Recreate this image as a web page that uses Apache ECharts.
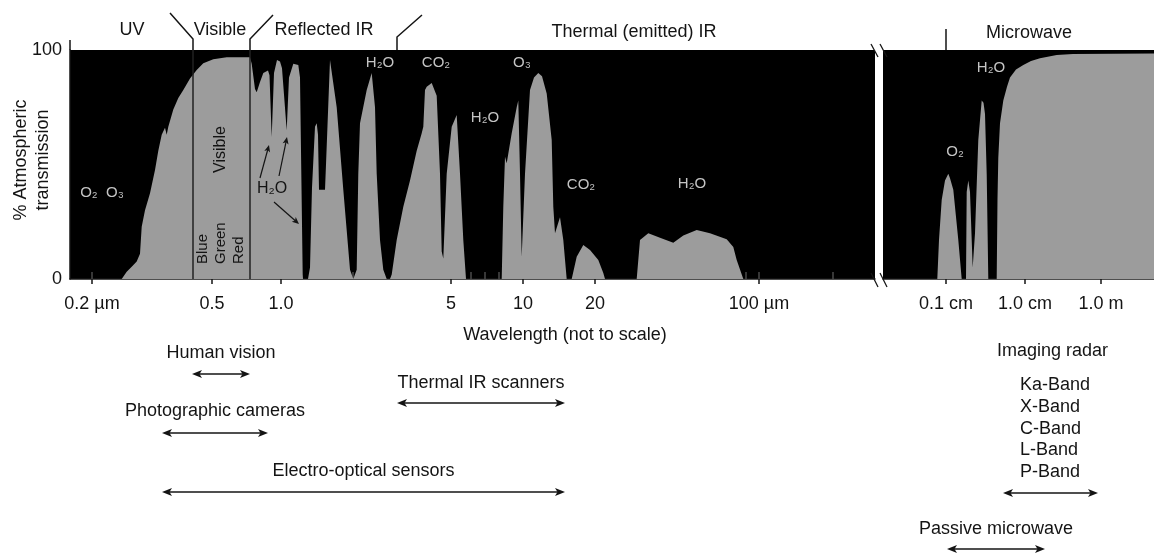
<!DOCTYPE html>
<html><head><meta charset="utf-8">
<script src="https://cdn.jsdelivr.net/npm/echarts@6/dist/echarts.min.js"></script>
<style>html,body{margin:0;padding:0;background:#fff}#c{width:1154px;height:553px}</style>
</head><body><div id="c"></div>
<script>
// Wavelength axis is "not to scale": x values are positions along that axis.
// Optical / thermal IR panel: [position, % atmospheric transmission]
const opticalTransmission = [[0,0],[51.7,0],[56.7,3.2],[61.7,5.4],[66.7,7.6],[70,11],[71.7,22.8],[75,30],[80,37.5],[85,47.6],[88.3,56],[91.7,63],[95,66],[96.7,63],[98.3,66.5],[103.3,74],[108.3,79],[113.3,82.5],[120,87.6],[126.7,91.3],[133.3,94.2],[143.3,96],[156.7,96.8],[180,96.8],
[181.7,94],[185,83],[186.7,81.5],[190,86],[193.3,90],[198,91],[199.5,89],[201.7,62],[204,90],[207,95.6],[210,95],[212,92],[216.7,65],[219,88],[223.3,94],[228.3,93.4],[230,88],[232.7,2],[233,0],[238,0],[240,5],[242,40],[245,66.5],[246.7,68],[248,63],[249,39],[255,39],[256,50],[260,95.6],[261.7,96.4],[266.7,75],[273.3,39],[280,4],[283.3,0],[285,0],[286.7,4],[288.3,46],[290,68],[296.7,82.5],[301.7,90],[305,75],[306.7,46],[310,17],[313.3,4],[316.7,0],[320,0],[321.7,2],[326.7,17],[333.3,31.6],[340,43],[346.7,56],[351.7,63.7],[353.3,66.5],[355,82.5],[356.7,84],[361.7,85.6],[366.7,80],[370,46],[371.7,12],[373.3,9],[376.7,46],[381.7,66.5],[386.7,71.6],[390,46],[393.3,17],[396,0],[431.7,0],[433.3,31.6],[435,53.4],[436.7,50.5],[441.7,63.6],[446.7,75],[448.3,78],[450,46],[451.7,9.7],[453,10],[455,46],[460,82.5],[464,88],[468.3,90],[472,88.5],[476.7,81],[481.7,60.7],[483.3,31.6],[485,20],[490,27],[493.3,17],[496.7,0],[501.7,0],[506.7,9.7],[513.3,14.8],[520,12.7],[528.3,8.3],[533.3,2.6],[535,0],[566.7,0],[570,17],[578.3,20],[590,18],[603.3,15.8],[613.3,19],[626.7,21.4],[640,20],[656.7,17.4],[663.3,14],[666.7,8.3],[673.3,0],[805,0]];
// Microwave panel: [position, % atmospheric transmission]
const microwaveTransmission = [[0,0],[54.3,0],[56,17],[58.7,34.5],[62,43],[65.3,46],[67,44],[70.3,39],[75.3,17],[78.7,0],[83,0],[83.7,38],[85.3,43],[87,38],[89.7,5],[92,20],[95.3,60.7],[98.7,78],[100.5,77],[102,72],[103.7,46],[105.3,0],[113.7,0],[114.5,35],[115.3,53],[117,68],[120.3,78],[124,84],[127,88],[133,91.5],[140.3,93.4],[148,95.2],[157,96.4],[173.7,97.8],[190,98.3],[271,98.5]];

const opticalTicks = [22,92,123,141,160,179,189,195,201,208,283,329,359,381,401,415,429,441,447,453,525,570,599,625,642,657,667,676,689,763];
const opticalLabelValues = [22,142,211,381,453,525,689];
const opticalLabelTexts = ['0.2 µm','0.5','1.0','5','10','20','100 µm'];
const microwaveLabelValues = [63,142,218];
const microwaveLabelTexts = ['0.1 cm','1.0 cm','1.0 m'];
const visibleBounds = [123,180];
const regionNames = ['UV','Visible','Reflected IR','Thermal (emitted) IR','Microwave'];

const sensorNames = ['Human vision','Thermal IR scanners','Photographic cameras','Electro-optical sensors'];
const sensorFrom = [122,327,92,92];
const sensorTo = [180,495,198,495];
const microSensorNames = ['Imaging radar','Passive microwave'];
const microSensorFrom = [120,64];
const microSensorTo = [215,162];
const radarBands = ['Ka-Band','X-Band','C-Band','L-Band','P-Band'];

const FONT = '"Liberation Sans", Arial, "DejaVu Sans", sans-serif';
const INK = '#141414';
const GRAY = '#9c9c9c';

const chart = echarts.init(document.getElementById('c'));
function lookup(vals, texts){ return v => { const i = vals.findIndex(a => Math.abs(a - v) < 0.01); return i >= 0 ? texts[i] : ''; }; }

const option = {
  animation: false,
  backgroundColor: '#fff',
  grid: [
    {left: 70, top: 50, width: 805, height: 229, show: true, backgroundColor: '#000', borderWidth: 0},
    {left: 883, top: 50, width: 271, height: 229, show: true, backgroundColor: '#000', borderWidth: 0}
  ],
  xAxis: [
    {type: 'value', gridIndex: 0, min: 0, max: 805, splitLine: {show: false},
     axisLine: {show: true, lineStyle: {color: INK, width: 1.5}},
     axisTick: {show: true, inside: true, length: 7, customValues: opticalTicks, lineStyle: {color: '#4a4a4a', width: 1.5}},
     axisLabel: {show: false}},
    {type: 'value', gridIndex: 0, min: 0, max: 805, position: 'bottom', splitLine: {show: false},
     axisLine: {show: false},
     axisTick: {show: true, inside: false, length: 5, customValues: opticalLabelValues, lineStyle: {color: INK, width: 1.5}},
     axisLabel: {show: true, customValues: opticalLabelValues, formatter: lookup(opticalLabelValues, opticalLabelTexts), margin: 16, fontSize: 18, color: INK, fontFamily: FONT}},
    {type: 'value', gridIndex: 1, min: 0, max: 271, splitLine: {show: false},
     axisLine: {show: true, lineStyle: {color: INK, width: 1.5}},
     axisTick: {show: true, inside: false, length: 5, customValues: microwaveLabelValues, lineStyle: {color: INK, width: 1.5}},
     axisLabel: {show: true, customValues: microwaveLabelValues, formatter: lookup(microwaveLabelValues, microwaveLabelTexts), margin: 16, fontSize: 18, color: INK, fontFamily: FONT}}
  ],
  yAxis: [
    {type: 'value', gridIndex: 0, min: 0, max: 100, interval: 100, splitLine: {show: false},
     axisLine: {show: true, lineStyle: {color: INK, width: 1.5}},
     axisTick: {show: false},
     axisLabel: {show: true, margin: 8, fontSize: 18, color: INK, fontFamily: FONT}},
    {type: 'value', gridIndex: 1, min: 0, max: 100, show: false}
  ],
  series: [
    {type: 'line', xAxisIndex: 0, yAxisIndex: 0, data: opticalTransmission, symbol: 'none', showSymbol: false,
     lineStyle: {width: 0, color: GRAY}, itemStyle: {color: GRAY}, areaStyle: {color: GRAY, opacity: 1},
     markLine: {silent: true, symbol: 'none', label: {show: false}, lineStyle: {color: '#222', width: 1.5, type: 'solid'},
       data: visibleBounds.map(v => ({xAxis: v}))}},
    {type: 'line', xAxisIndex: 2, yAxisIndex: 1, data: microwaveTransmission, symbol: 'none', showSymbol: false,
     lineStyle: {width: 0, color: GRAY}, itemStyle: {color: GRAY}, areaStyle: {color: GRAY, opacity: 1}}
  ]
};
chart.setOption(option);

const px0 = v => chart.convertToPixel({xAxisIndex: 0}, v);
const pxR = v => chart.convertToPixel({xAxisIndex: 2}, v);
const g = [];
function text(t, x, y, o){
  o = o || {};
  g.push({type: 'text', x: x, y: y, rotation: o.rot || 0, z: 100,
    style: {text: t, font: (o.size || 18) + 'px ' + FONT, fill: o.color || INK,
      textAlign: o.align || 'center', textVerticalAlign: 'middle', align: o.align || 'center', verticalAlign: 'middle'}});
}
function line(pts, o){
  o = o || {};
  g.push({type: 'polyline', z: 100, shape: {points: pts}, style: {stroke: o.color || INK, lineWidth: o.w || 1.5, fill: null}});
}
function arrow(x1, y1, x2, y2, both, o){
  o = o || {};
  const L = o.len || 10, W = o.hw || 4;
  const dx = x2 - x1, dy = y2 - y1, d = Math.hypot(dx, dy), ux = dx / d, uy = dy / d, nx = -uy, ny = ux;
  const sx = both ? x1 + ux * L * 0.7 : x1, sy = both ? y1 + uy * L * 0.7 : y1;
  line([[sx, sy], [x2 - ux * L * 0.7, y2 - uy * L * 0.7]], {w: o.w || 1.5, color: o.color});
  const head = (tx, ty, vx, vy) => g.push({type: 'polygon', z: 100,
    shape: {points: [[tx, ty], [tx - vx * L + nx * W, ty - vy * L + ny * W], [tx - vx * L * 0.75, ty - vy * L * 0.75], [tx - vx * L - nx * W, ty - vy * L - ny * W]]},
    style: {fill: o.color || INK, stroke: null}});
  head(x2, y2, ux, uy);
  if (both) head(x1, y1, -ux, -uy);
}

// Region labels across the top with boundary connectors
text(regionNames[0], 132, 30);
text(regionNames[1], 220, 30);
text(regionNames[2], 324, 30);
text(regionNames[3], 634, 32);
text(regionNames[4], 1029, 33);
const b1 = px0(visibleBounds[0]), b2 = px0(visibleBounds[1]), b3 = px0(327), b4 = pxR(63);
line([[b1 - 23, 13], [b1, 39], [b1, 50]]);
line([[b2 + 23, 15], [b2, 39], [b2, 50]]);
line([[b3 + 25, 15], [b3, 37], [b3, 50]]);
line([[b4, 29], [b4, 50]]);
line([[70, 40], [70, 50]]);

// Axis titles
text('% Atmospheric', 21, 160, {rot: Math.PI / 2});
text('transmission', 43, 160, {rot: Math.PI / 2});
text('Wavelength (not to scale)', 565, 335);

// Axis break marks
const gapL = 875, gapR = 883;
[[44, 57], [273, 287]].forEach(([ya, yb]) => {
  line([[gapL - 4, ya], [gapL + 3, yb]], {w: 1.3});
  line([[gapR - 3, ya], [gapR + 4, yb]], {w: 1.3});
});

// Absorption labels in the plot
const LIGHT = '#c4c4c4';
text('O₂  O₃', 102, 193, {size: 15, color: LIGHT});
text('H₂O', 380, 63, {size: 15, color: LIGHT});
text('CO₂', 436, 63, {size: 15, color: LIGHT});
text('O₃', 522, 63, {size: 15, color: LIGHT});
text('H₂O', 485, 118, {size: 15, color: LIGHT});
text('CO₂', 581, 185, {size: 15, color: LIGHT});
text('H₂O', 692, 184, {size: 15, color: LIGHT});
text('H₂O', 991, 68, {size: 15, color: LIGHT});
text('O₂', 955, 152, {size: 15, color: LIGHT});

// Visible-band labels (rotated)
text('Visible', 221, 173, {rot: Math.PI / 2, align: 'left', size: 16});
text('Blue', 203, 264, {rot: Math.PI / 2, align: 'left', size: 15});
text('Green', 221, 264, {rot: Math.PI / 2, align: 'left', size: 15});
text('Red', 239, 264, {rot: Math.PI / 2, align: 'left', size: 15});

// H2O pointer arrows in reflected IR
text('H₂O', 272, 189, {size: 16});
arrow(260, 178, 269, 145, false, {len: 7, hw: 3, w: 1.2});
arrow(279, 176, 287, 137, false, {len: 7, hw: 3, w: 1.2});
arrow(274, 202, 299, 224, false, {len: 7, hw: 3, w: 1.2});

// Sensor ranges
const textRows = [353, 383, 411, 471];
const arrowRows = [374, 403, 433, 492];
sensorNames.forEach((n, i) => {
  const a = px0(sensorFrom[i]), b = px0(sensorTo[i]);
  text(n, (a + b) / 2, textRows[i]);
  arrow(a, arrowRows[i], b, arrowRows[i], true);
});
const mA = pxR(microSensorFrom[0]), mB = pxR(microSensorTo[0]);
text(microSensorNames[0], (mA + mB) / 2 + 2, 351);
radarBands.forEach((n, i) => text(n, mA + 17, 385 + i * 21.8, {align: 'left'}));
arrow(mA, 493, mB, 493, true);
const pA = pxR(microSensorFrom[1]), pB = pxR(microSensorTo[1]);
text(microSensorNames[1], (pA + pB) / 2, 529);
arrow(pA, 549, pB, 549, true);

chart.setOption({graphic: {elements: g}});
</script>
</body></html>
